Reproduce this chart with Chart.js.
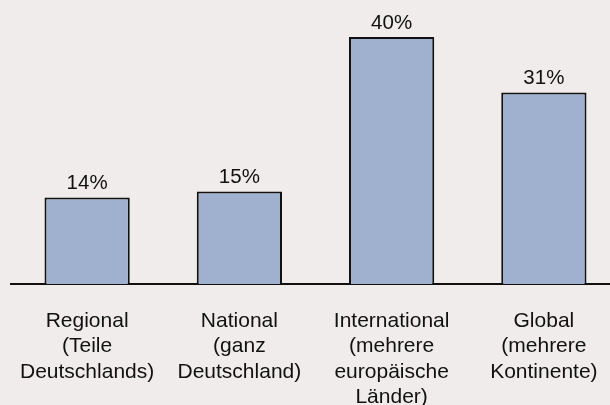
<!DOCTYPE html>
<html>
<head>
<meta charset="utf-8">
<script src="https://cdn.jsdelivr.net/npm/chart.js@4"></script>
<style>
  html, body { margin: 0; padding: 0; background: #efeceb; overflow: hidden; }
  #wrap { width: 620px; height: 405px; }
</style>
</head>
<body>
<div id="wrap"><canvas id="myChart"></canvas></div>
<script>
// categories (multi-line labels) and values in percent
const categories = [
    ['Regional', '(Teile', 'Deutschlands)'],
    ['National', '(ganz', 'Deutschland)'],
    ['International', '(mehrere', 'europäische', 'Länder)'],
    ['Global', '(mehrere', 'Kontinente)']
];
const shares = [14, 15, 40, 31];

const fontFamily = '"Liberation Sans", Arial, sans-serif';

// draws the "xx%" labels above each bar
const valueLabels = {
    id: 'valueLabels',
    afterDatasetsDraw(chart) {
        const ctx = chart.ctx;
        const meta = chart.getDatasetMeta(0);
        ctx.save();
        ctx.font = '20.5px ' + fontFamily;
        ctx.fillStyle = '#111';
        ctx.textAlign = 'center';
        ctx.textBaseline = 'alphabetic';
        meta.data.forEach((bar, i) => {
            ctx.fillText(shares[i] + '%', bar.x, bar.y - 8.5);
        });
        ctx.restore();
    }
};

new Chart(document.getElementById('myChart'), {
    type: 'bar',
    data: {
        labels: categories,
        datasets: [{
            data: shares,
            backgroundColor: '#9fb1cf',
            borderColor: '#111',
            borderWidth: 2,
            categoryPercentage: 1,
            barPercentage: 0.56
        }]
    },
    options: {
        responsive: true,
        maintainAspectRatio: false,
        animation: false,
        layout: { padding: { left: 11, top: 37, right: 0, bottom: 0 } },
        plugins: {
            legend: { display: false },
            tooltip: { enabled: false }
        },
        scales: {
            y: { display: false, min: 0, max: 40 },
            x: {
                grid: { display: false, drawTicks: false },
                border: { display: true, color: '#111', width: 2 },
                ticks: {
                    color: '#111',
                    padding: 24,
                    maxRotation: 0,
                    autoSkip: false,
                    font: { family: fontFamily, size: 21, lineHeight: 1.215 }
                },
                afterFit(scale) {
                    scale.height = 121;
                    // labels fit inside their slots, no extra side padding
                    scale.paddingLeft = 0;
                    scale.paddingRight = 0;
                }
            }
        }
    },
    plugins: [valueLabels]
});
</script>
</body>
</html>
